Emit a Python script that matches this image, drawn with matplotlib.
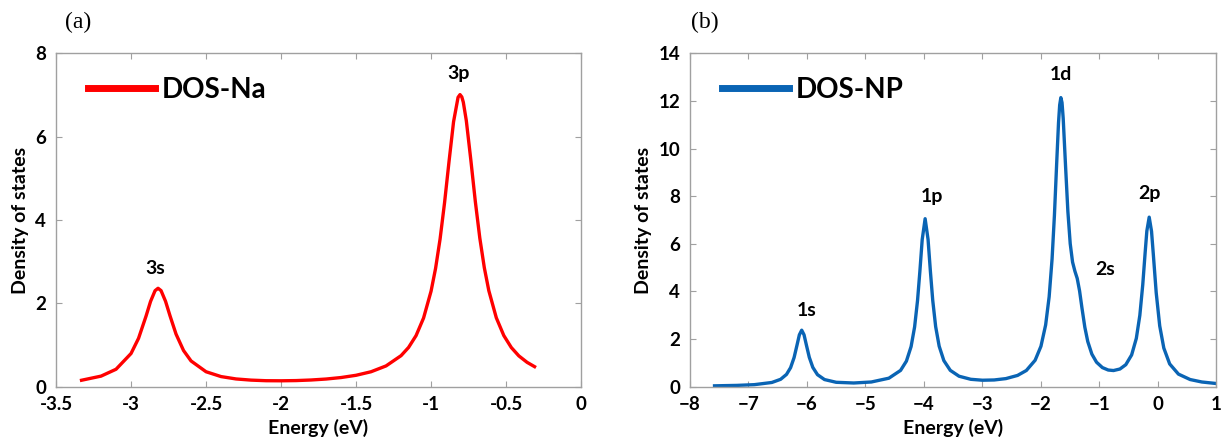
import matplotlib
matplotlib.use("Agg")
import matplotlib.pyplot as plt

plt.rcParams['font.family'] = ['Lato', 'DejaVu Sans']
plt.rcParams['font.weight'] = 'bold'

# (a) Na atom
e_na = [-3.33, -3.2, -3.1, -3.0, -2.95, -2.9, -2.87, -2.84, -2.82, -2.8, -2.77,
        -2.74, -2.7, -2.65, -2.6, -2.5, -2.4, -2.3, -2.2, -2.1, -2.0, -1.9, -1.8,
        -1.7, -1.6, -1.5, -1.4, -1.3, -1.2, -1.15, -1.1, -1.05, -1.0, -0.97, -0.94,
        -0.91, -0.88, -0.85, -0.82, -0.807, -0.795, -0.785, -0.765, -0.735, -0.705, -0.675,
        -0.645, -0.615, -0.565, -0.515, -0.465, -0.415, -0.36, -0.31]
dos_na = [0.155, 0.254, 0.419, 0.797, 1.161, 1.694, 2.046, 2.304, 2.362, 2.306, 2.049,
          1.699, 1.262, 0.868, 0.618, 0.359, 0.243, 0.186, 0.158, 0.144, 0.142, 0.147, 0.161,
          0.184, 0.220, 0.274, 0.359, 0.499, 0.745, 0.942, 1.226, 1.648, 2.292, 2.838, 3.541,
          4.416, 5.411, 6.358, 6.944, 7.009, 6.953, 6.826, 6.384, 5.443, 4.445, 3.565,
          2.856, 2.305, 1.653, 1.227, 0.940, 0.740, 0.585, 0.481]

# (b) nanoparticle
e_np = [-7.58, -7.2, -6.9, -6.6, -6.45, -6.35, -6.28, -6.22, -6.17, -6.13, -6.09, -6.05,
        -6.01, -5.96, -5.9, -5.82, -5.7, -5.5, -5.2, -4.9, -4.6, -4.4, -4.3, -4.22, -4.16,
        -4.11, -4.07, -4.03, -3.98, -3.93, -3.89, -3.85, -3.8, -3.74, -3.66, -3.55, -3.4,
        -3.2, -3.0, -2.8, -2.6, -2.4, -2.25, -2.1, -2.0, -1.92, -1.86, -1.81, -1.77, -1.73,
        -1.7, -1.68, -1.66, -1.64, -1.62, -1.58, -1.54, -1.5, -1.46, -1.42, -1.38, -1.34,
        -1.3, -1.25, -1.2, -1.13, -1.05, -0.95, -0.85, -0.76, -0.65, -0.55, -0.45, -0.37,
        -0.31, -0.26, -0.22, -0.19, -0.15, -0.11, -0.08, -0.03, 0.03, 0.1, 0.2, 0.35, 0.55,
        0.75, 1.0]
dos_np = [0.037, 0.055, 0.086, 0.178, 0.311, 0.516, 0.799, 1.225, 1.748, 2.178, 2.374, 2.18,
          1.752, 1.233, 0.811, 0.505, 0.300, 0.185, 0.156, 0.198, 0.357, 0.684, 1.075, 1.685,
          2.509, 3.616, 4.840, 6.18, 7.055, 6.183, 4.845, 3.624, 2.521, 1.701, 1.096, 0.687,
          0.440, 0.311, 0.272, 0.283, 0.340, 0.474, 0.681, 1.11, 1.70, 2.595, 3.778, 5.366,
          7.195, 9.459, 11.08, 11.83, 12.14, 11.93, 11.27, 9.281, 7.36, 6.007, 5.234, 4.852,
          4.545, 4.023, 3.318, 2.496, 1.897, 1.369, 1.028, 0.803, 0.700, 0.679, 0.743, 0.924,
          1.335, 2.029, 2.997, 4.281, 5.602, 6.54, 7.12, 6.527, 5.579, 3.945, 2.553, 1.623,
          0.957, 0.529, 0.301, 0.198, 0.133]

labels_na = [('3s', -2.84, 2.84), ('3p', -0.82, 7.52)]
labels_np = [('1s', -6.0, 3.22), ('1p', -3.87, 7.98), ('1d', -1.66, 13.09),
             ('2s', -0.91, 4.93), ('2p', -0.15, 8.12)]

fig = plt.figure(figsize=(12.29, 4.42), dpi=100)
ax1 = fig.add_axes([0.0456, 0.1251, 0.4272, 0.7543])
ax2 = fig.add_axes([0.5614, 0.1251, 0.4284, 0.7543])


def style(ax):
    for s in ax.spines.values():
        s.set_color('#a0a0a0')
        s.set_linewidth(1.0)
    ax.tick_params(direction='in', top=True, right=True, color='#a0a0a0',
                   length=4, labelsize=13.5, pad=7)
    ax.set_xlabel('Energy (eV)', fontsize=14, fontweight='bold', labelpad=4)
    ax.set_ylabel('Density of states', fontsize=14, fontweight='bold', labelpad=5)


ax1.plot(e_na, dos_na, color='#ff0000', lw=2.4, label='DOS-Na')
ax1.set_xlim(-3.5, 0)
ax1.set_ylim(0, 8)
ax1.set_xticks([-3.5, -3, -2.5, -2, -1.5, -1, -0.5, 0])
ax1.set_xticklabels(['-3.5', '-3', '-2.5', '-2', '-1.5', '-1', '-0.5', '0'])
ax1.set_yticks([0, 2, 4, 6, 8])
style(ax1)
for t, x, y in labels_na:
    ax1.text(x, y, t, ha='center', va='center', fontsize=14, fontweight='bold')

ax2.plot(e_np, dos_np, color='#0a64b4', lw=2.4, label='DOS-NP')
ax2.set_xlim(-8, 1)
ax2.set_ylim(0, 14)
ax2.set_xticks(range(-8, 2))
ax2.set_yticks(range(0, 15, 2))
style(ax2)
for t, x, y in labels_np:
    ax2.text(x, y, t, ha='center', va='center', fontsize=14, fontweight='bold')

for ax in (ax1, ax2):
    leg = ax.legend(loc='center left', frameon=False, handlelength=2.4,
                    handletextpad=0.25, borderaxespad=0.0, borderpad=0.0,
                    bbox_to_anchor=(0.061, 0.89),
                    prop={'weight': 'bold', 'size': 20})
    for ln in leg.get_lines():
        ln.set_linewidth(5)

fig.text(78 / 1229, 1 - 22 / 442, '(a)', family='Liberation Serif', fontsize=17,
         fontweight='normal', ha='center', va='center')
fig.text(705 / 1229, 1 - 22 / 442, '(b)', family='Liberation Serif', fontsize=17,
         fontweight='normal', ha='center', va='center')

fig.savefig('out.png', dpi=100)
